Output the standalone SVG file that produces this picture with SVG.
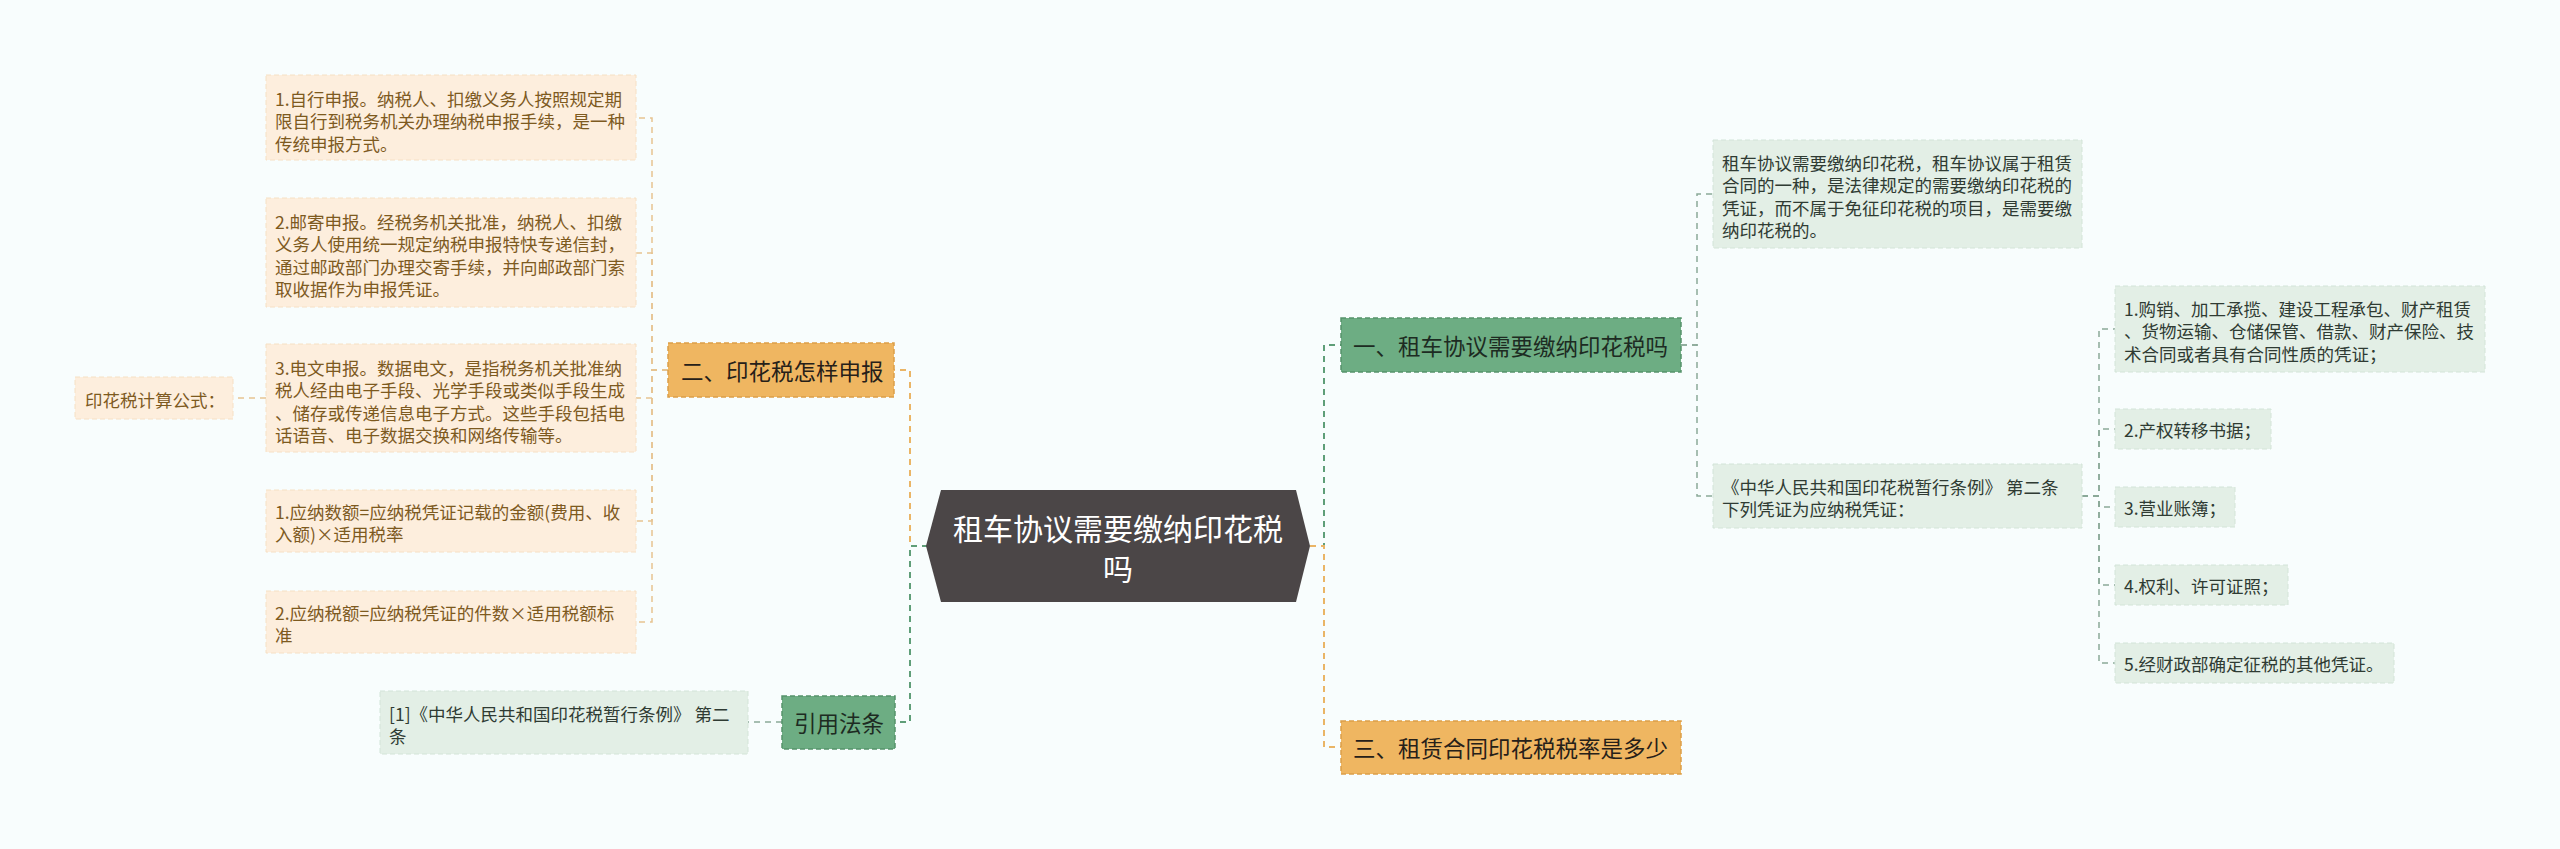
<svg xmlns="http://www.w3.org/2000/svg" width="2560" height="849" viewBox="0 0 2560 849">
<style>
text{font-family:"Noto Sans CJK SC","Noto Sans",sans-serif;dominant-baseline:central}
.bg{fill:#f8fdfd}
.lo{fill:#fdeedd;stroke:#f6e0c4;stroke-width:1;stroke-dasharray:5 3}
.lot{font-size:17.5px;fill:#7d5a1f}
.gr{fill:#e3efe6;stroke:#d3e4d8;stroke-width:1;stroke-dasharray:5 3}
.grt{font-size:17.5px;fill:#2f3b33}
.mo{fill:#efb661;stroke:#dc9f48;stroke-width:1.5;stroke-dasharray:5 3}
.mg{fill:#6dad83;stroke:#55936b;stroke-width:1.5;stroke-dasharray:5 3}
.mt{font-size:22.5px;fill:#262019}
.mgt{font-size:22.5px;fill:#1d2b22}
.c{fill:none;stroke-dasharray:6 5}
.co{stroke:#eab566;stroke-width:2}
.cg{stroke:#5f9e78;stroke-width:2}
.clo{stroke:#e6c391;stroke-width:1.5}
.clg{stroke:#8aa998;stroke-width:1.5}
</style>
<rect class="bg" x="0" y="0" width="2560" height="849"/>
<g id="connectors">
<path class="c co" d="M928 546H910V370H894"/>
<path class="c cg" d="M928 546H910V722H895"/>
<path class="c cg" d="M1310 546H1324V345H1341"/>
<path class="c co" d="M1310 546H1324V747H1341"/>
<path class="c clo" d="M668 370H652V118H636"/>
<path class="c clo" d="M668 370H652V253H636"/>
<path class="c clo" d="M668 370H652V398H636"/>
<path class="c clo" d="M668 370H652V521H636"/>
<path class="c clo" d="M668 370H652V622H636"/>
<path class="c clo" d="M266 398H233"/>
<path class="c clg" d="M782 722H748"/>
<path class="c clg" d="M1681 345H1697V194H1713"/>
<path class="c clg" d="M1681 345H1697V496H1713"/>
<path class="c clg" d="M2082 496H2099V329H2115"/>
<path class="c clg" d="M2082 496H2099V429H2115"/>
<path class="c clg" d="M2082 496H2099V507H2115"/>
<path class="c clg" d="M2082 496H2099V585H2115"/>
<path class="c clg" d="M2082 496H2099V663H2115"/>
</g>
<g id="center">
<polygon points="926,546 941,490 1296,490 1310,546 1296,602 941,602" fill="#4b4647"/>
<text x="1118" y="527" font-size="30" fill="#ffffff" text-anchor="middle">租车协议需要缴纳印花税</text>
<text x="1118" y="567" font-size="30" fill="#ffffff" text-anchor="middle">吗</text>
</g>
<g id="n2">
<rect class="mo" x="668" y="343" width="226" height="54"/>
<text class="mt" x="681" y="370">二、印花税怎样申报</text>
</g>
<g id="ref">
<rect class="mg" x="782" y="696" width="113" height="53"/>
<text class="mgt" x="794" y="722">引用法条</text>
</g>
<g id="n1">
<rect class="mg" x="1341" y="318" width="340" height="54"/>
<text class="mgt" x="1353" y="345">一、租车协议需要缴纳印花税吗</text>
</g>
<g id="n3">
<rect class="mo" x="1341" y="721" width="340" height="53"/>
<text class="mt" x="1353" y="747">三、租赁合同印花税税率是多少</text>
</g>
<g id="l1">
<rect class="lo" x="266" y="75" width="370" height="85"/>
<text class="lot" x="275" y="98">1.自行申报。纳税人、扣缴义务人按照规定期</text>
<text class="lot" x="275" y="120.5">限自行到税务机关办理纳税申报手续，是一种</text>
<text class="lot" x="275" y="143">传统申报方式。</text>
</g>
<g id="l2">
<rect class="lo" x="266" y="198" width="370" height="109"/>
<text class="lot" x="275" y="221">2.邮寄申报。经税务机关批准，纳税人、扣缴</text>
<text class="lot" x="275" y="243.5">义务人使用统一规定纳税申报特快专递信封，</text>
<text class="lot" x="275" y="266">通过邮政部门办理交寄手续，并向邮政部门索</text>
<text class="lot" x="275" y="288.5">取收据作为申报凭证。</text>
</g>
<g id="l3">
<rect class="lo" x="266" y="344" width="370" height="108"/>
<text class="lot" x="275" y="367">3.电文申报。数据电文，是指税务机关批准纳</text>
<text class="lot" x="275" y="389.5">税人经由电子手段、光学手段或类似手段生成</text>
<text class="lot" x="275" y="412">、储存或传递信息电子方式。这些手段包括电</text>
<text class="lot" x="275" y="434.5">话语音、电子数据交换和网络传输等。</text>
</g>
<g id="formula">
<rect class="lo" x="75" y="377" width="158" height="42"/>
<text class="lot" x="85" y="399">印花税计算公式：</text>
</g>
<g id="l4">
<rect class="lo" x="266" y="490" width="370" height="62"/>
<text class="lot" x="275" y="511">1.应纳数额=应纳税凭证记载的金额(费用、收</text>
<text class="lot" x="275" y="533">入额)×适用税率</text>
</g>
<g id="l5">
<rect class="lo" x="266" y="591" width="370" height="62"/>
<text class="lot" x="275" y="612">2.应纳税额=应纳税凭证的件数×适用税额标</text>
<text class="lot" x="275" y="634">准</text>
</g>
<g id="ref1">
<rect class="gr" x="380" y="691" width="368" height="63"/>
<text class="grt" x="389" y="713">[1]《中华人民共和国印花税暂行条例》 第二</text>
<text class="grt" x="389" y="735">条</text>
</g>
<g id="r1">
<rect class="gr" x="1713" y="140" width="369" height="108"/>
<text class="grt" x="1722" y="162">租车协议需要缴纳印花税，租车协议属于租赁</text>
<text class="grt" x="1722" y="184.5">合同的一种，是法律规定的需要缴纳印花税的</text>
<text class="grt" x="1722" y="207">凭证，而不属于免征印花税的项目，是需要缴</text>
<text class="grt" x="1722" y="229.5">纳印花税的。</text>
</g>
<g id="r2">
<rect class="gr" x="1713" y="464" width="369" height="64"/>
<text class="grt" x="1722" y="486">《中华人民共和国印花税暂行条例》 第二条</text>
<text class="grt" x="1722" y="508">下列凭证为应纳税凭证：</text>
</g>
<g id="c1">
<rect class="gr" x="2115" y="286" width="370" height="86"/>
<text class="grt" x="2124" y="308">1.购销、加工承揽、建设工程承包、财产租赁</text>
<text class="grt" x="2124" y="330.5">、货物运输、仓储保管、借款、财产保险、技</text>
<text class="grt" x="2124" y="353">术合同或者具有合同性质的凭证；</text>
</g>
<g id="c2">
<rect class="gr" x="2115" y="409" width="156" height="40"/>
<text class="grt" x="2124" y="429">2.产权转移书据；</text>
</g>
<g id="c3">
<rect class="gr" x="2115" y="487" width="120" height="40"/>
<text class="grt" x="2124" y="507">3.营业账簿；</text>
</g>
<g id="c4">
<rect class="gr" x="2115" y="565" width="173" height="40"/>
<text class="grt" x="2124" y="585">4.权利、许可证照；</text>
</g>
<g id="c5">
<rect class="gr" x="2115" y="643" width="279" height="40"/>
<text class="grt" x="2124" y="663">5.经财政部确定征税的其他凭证。</text>
</g>
</svg>
